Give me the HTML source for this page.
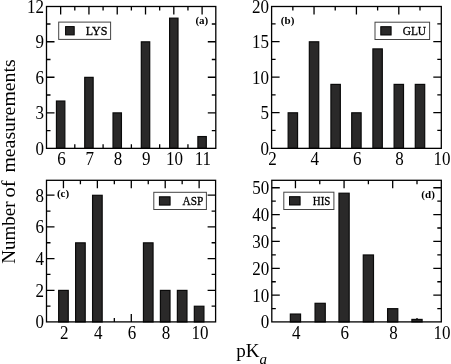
<!DOCTYPE html>
<html><head><meta charset="utf-8"><style>
html,body{margin:0;padding:0;background:#fff;}
svg{display:block;will-change:transform;}
text{font-family:"Liberation Serif",serif;fill:#000;}
.t{font-size:17px;}
.l{font-size:12px;stroke:#000;stroke-width:0.3px;}
.p{font-size:11px;font-weight:bold;}
.ax{font-size:19px;}
</style></head><body>
<svg width="451" height="364" viewBox="0 0 451 364">
<rect width="451" height="364" fill="#fff"/>
<path d="M60.65 148.35v-8M60.65 6.5v8M88.94 148.35v-8M88.94 6.5v8M117.23 148.35v-8M117.23 6.5v8M145.52 148.35v-8M145.52 6.5v8M173.81 148.35v-8M173.81 6.5v8M202.1 148.35v-8M202.1 6.5v8M74.8 148.35v-4M74.8 6.5v4M103.09 148.35v-4M103.09 6.5v4M131.38 148.35v-4M131.38 6.5v4M159.66 148.35v-4M159.66 6.5v4M187.95 148.35v-4M187.95 6.5v4M46.5 112.78h8M215.8 112.78h-8M46.5 77.26h8M215.8 77.26h-8M46.5 41.74h8M215.8 41.74h-8M46.5 130.54h4M215.8 130.54h-4M46.5 95.02h4M215.8 95.02h-4M46.5 59.5h4M215.8 59.5h-4M46.5 23.98h4M215.8 23.98h-4" stroke="#000" stroke-width="1.3" fill="none"/>
<rect x="56.45" y="101.04" width="8.4" height="47.31" fill="#2a2929" stroke="#0a0a0a" stroke-width="1.2"/>
<rect x="84.74" y="77.36" width="8.4" height="70.99" fill="#2a2929" stroke="#0a0a0a" stroke-width="1.2"/>
<rect x="113.03" y="112.88" width="8.4" height="35.47" fill="#2a2929" stroke="#0a0a0a" stroke-width="1.2"/>
<rect x="141.32" y="41.84" width="8.4" height="106.51" fill="#2a2929" stroke="#0a0a0a" stroke-width="1.2"/>
<rect x="169.61" y="18.16" width="8.4" height="130.19" fill="#2a2929" stroke="#0a0a0a" stroke-width="1.2"/>
<rect x="197.9" y="136.56" width="8.4" height="11.79" fill="#2a2929" stroke="#0a0a0a" stroke-width="1.2"/>
<rect x="46.5" y="6.5" width="169.3" height="141.85" fill="none" stroke="#000" stroke-width="1.3"/>
<text class="t" transform="translate(61.45 165.15) scale(1 1.08)" text-anchor="middle">6</text>
<text class="t" transform="translate(89.74 165.15) scale(1 1.08)" text-anchor="middle">7</text>
<text class="t" transform="translate(118.03 165.15) scale(1 1.08)" text-anchor="middle">8</text>
<text class="t" transform="translate(146.32 165.15) scale(1 1.08)" text-anchor="middle">9</text>
<text class="t" transform="translate(174.61 165.15) scale(1 1.08)" text-anchor="middle">10</text>
<text class="t" transform="translate(202.9 165.15) scale(1 1.08)" text-anchor="middle">11</text>
<text class="t" transform="translate(43.9 154.75) scale(1 1.08)" text-anchor="end">0</text>
<text class="t" transform="translate(43.9 119.18) scale(1 1.08)" text-anchor="end">3</text>
<text class="t" transform="translate(43.9 83.66) scale(1 1.08)" text-anchor="end">6</text>
<text class="t" transform="translate(43.9 48.14) scale(1 1.08)" text-anchor="end">9</text>
<text class="t" transform="translate(43.9 13.2) scale(1 1.08)" text-anchor="end">12</text>
<rect x="58.7" y="22.1" width="51.9" height="17.3" fill="#fff" stroke="#444" stroke-width="1"/>
<rect x="65.6" y="26.6" width="8.6" height="8.3" fill="#2a2929" stroke="#000" stroke-width="1"/>
<text class="l" transform="translate(107.3 34.7) scale(1.0 1)" text-anchor="end">LYS</text>
<text class="p" x="201.8" y="23.6" text-anchor="middle">(a)</text>
<path d="M314.04 148.35v-8M314.04 6.5v8M356.42 148.35v-8M356.42 6.5v8M398.8 148.35v-8M398.8 6.5v8M292.85 148.35v-4M292.85 6.5v4M335.23 148.35v-4M335.23 6.5v4M377.61 148.35v-4M377.61 6.5v4M419.99 148.35v-4M419.99 6.5v4M271.6 112.7h8M441.3 112.7h-8M271.6 77.2h8M441.3 77.2h-8M271.6 41.7h8M441.3 41.7h-8M271.6 130.45h4M441.3 130.45h-4M271.6 94.95h4M441.3 94.95h-4M271.6 59.45h4M441.3 59.45h-4M271.6 23.95h4M441.3 23.95h-4" stroke="#000" stroke-width="1.3" fill="none"/>
<rect x="288.15" y="112.8" width="9.4" height="35.55" fill="#2a2929" stroke="#0a0a0a" stroke-width="1.2"/>
<rect x="309.34" y="41.8" width="9.4" height="106.55" fill="#2a2929" stroke="#0a0a0a" stroke-width="1.2"/>
<rect x="330.93" y="84.4" width="9.4" height="63.95" fill="#2a2929" stroke="#0a0a0a" stroke-width="1.2"/>
<rect x="351.72" y="112.8" width="9.4" height="35.55" fill="#2a2929" stroke="#0a0a0a" stroke-width="1.2"/>
<rect x="372.91" y="48.9" width="9.4" height="99.45" fill="#2a2929" stroke="#0a0a0a" stroke-width="1.2"/>
<rect x="394.1" y="84.4" width="9.4" height="63.95" fill="#2a2929" stroke="#0a0a0a" stroke-width="1.2"/>
<rect x="415.29" y="84.4" width="9.4" height="63.95" fill="#2a2929" stroke="#0a0a0a" stroke-width="1.2"/>
<rect x="271.6" y="6.5" width="169.7" height="141.85" fill="none" stroke="#000" stroke-width="1.3"/>
<text class="t" transform="translate(272.46 165.15) scale(1 1.08)" text-anchor="middle">2</text>
<text class="t" transform="translate(314.84 165.15) scale(1 1.08)" text-anchor="middle">4</text>
<text class="t" transform="translate(357.22 165.15) scale(1 1.08)" text-anchor="middle">6</text>
<text class="t" transform="translate(399.6 165.15) scale(1 1.08)" text-anchor="middle">8</text>
<text class="t" transform="translate(441.98 165.15) scale(1 1.08)" text-anchor="middle">10</text>
<text class="t" transform="translate(269 154.75) scale(1 1.08)" text-anchor="end">0</text>
<text class="t" transform="translate(269 119.1) scale(1 1.08)" text-anchor="end">5</text>
<text class="t" transform="translate(269 83.6) scale(1 1.08)" text-anchor="end">10</text>
<text class="t" transform="translate(269 48.1) scale(1 1.08)" text-anchor="end">15</text>
<text class="t" transform="translate(269 13.2) scale(1 1.08)" text-anchor="end">20</text>
<rect x="375" y="22.2" width="54.6" height="17.3" fill="#fff" stroke="#444" stroke-width="1"/>
<rect x="380.8" y="26.7" width="10.3" height="8.3" fill="#2a2929" stroke="#000" stroke-width="1"/>
<text class="l" transform="translate(426.1 34.8) scale(0.95 1)" text-anchor="end">GLU</text>
<text class="p" x="287.6" y="23.6" text-anchor="middle">(b)</text>
<path d="M63.45 321.9v-8M63.45 180.3v8M97.37 321.9v-8M97.37 180.3v8M131.29 321.9v-8M131.29 180.3v8M165.21 321.9v-8M165.21 180.3v8M199.13 321.9v-8M199.13 180.3v8M80.41 321.9v-4M80.41 180.3v4M114.33 321.9v-4M114.33 180.3v4M148.25 321.9v-4M148.25 180.3v4M182.17 321.9v-4M182.17 180.3v4M46.5 290.3h8M215.6 290.3h-8M46.5 258.6h8M215.6 258.6h-8M46.5 226.9h8M215.6 226.9h-8M46.5 195.2h8M215.6 195.2h-8M46.5 306.15h4M215.6 306.15h-4M46.5 274.45h4M215.6 274.45h-4M46.5 242.75h4M215.6 242.75h-4M46.5 211.05h4M215.6 211.05h-4" stroke="#000" stroke-width="1.3" fill="none"/>
<rect x="58.65" y="290.4" width="9.6" height="31.5" fill="#2a2929" stroke="#0a0a0a" stroke-width="1.2"/>
<rect x="75.61" y="242.85" width="9.6" height="79.05" fill="#2a2929" stroke="#0a0a0a" stroke-width="1.2"/>
<rect x="92.57" y="195.3" width="9.6" height="126.6" fill="#2a2929" stroke="#0a0a0a" stroke-width="1.2"/>
<rect x="143.45" y="242.85" width="9.6" height="79.05" fill="#2a2929" stroke="#0a0a0a" stroke-width="1.2"/>
<rect x="160.41" y="290.4" width="9.6" height="31.5" fill="#2a2929" stroke="#0a0a0a" stroke-width="1.2"/>
<rect x="177.37" y="290.4" width="9.6" height="31.5" fill="#2a2929" stroke="#0a0a0a" stroke-width="1.2"/>
<rect x="194.33" y="306.25" width="9.6" height="15.65" fill="#2a2929" stroke="#0a0a0a" stroke-width="1.2"/>
<rect x="46.5" y="180.3" width="169.1" height="141.6" fill="none" stroke="#000" stroke-width="1.3"/>
<text class="t" transform="translate(64.25 338.7) scale(1 1.08)" text-anchor="middle">2</text>
<text class="t" transform="translate(98.17 338.7) scale(1 1.08)" text-anchor="middle">4</text>
<text class="t" transform="translate(132.09 338.7) scale(1 1.08)" text-anchor="middle">6</text>
<text class="t" transform="translate(166.01 338.7) scale(1 1.08)" text-anchor="middle">8</text>
<text class="t" transform="translate(199.93 338.7) scale(1 1.08)" text-anchor="middle">10</text>
<text class="t" transform="translate(43.9 328.3) scale(1 1.08)" text-anchor="end">0</text>
<text class="t" transform="translate(43.9 296.7) scale(1 1.08)" text-anchor="end">2</text>
<text class="t" transform="translate(43.9 265) scale(1 1.08)" text-anchor="end">4</text>
<text class="t" transform="translate(43.9 233.3) scale(1 1.08)" text-anchor="end">6</text>
<text class="t" transform="translate(43.9 201.6) scale(1 1.08)" text-anchor="end">8</text>
<rect x="153.8" y="192.3" width="52.6" height="17.2" fill="#fff" stroke="#444" stroke-width="1"/>
<rect x="159.4" y="196.8" width="10.7" height="8.3" fill="#2a2929" stroke="#000" stroke-width="1"/>
<text class="l" transform="translate(203.2 205.4) scale(0.94 1)" text-anchor="end">ASP</text>
<text class="p" x="63" y="196.5" text-anchor="middle">(c)</text>
<path d="M295.45 321.9v-8M295.45 180.3v8M344.07 321.9v-8M344.07 180.3v8M392.69 321.9v-8M392.69 180.3v8M319.76 321.9v-4M319.76 180.3v4M368.38 321.9v-4M368.38 180.3v4M417 321.9v-4M417 180.3v4M271.8 295.15h8M441.3 295.15h-8M271.8 268.3h8M441.3 268.3h-8M271.8 241.45h8M441.3 241.45h-8M271.8 214.6h8M441.3 214.6h-8M271.8 187.75h8M441.3 187.75h-8M271.8 308.57h4M441.3 308.57h-4M271.8 281.73h4M441.3 281.73h-4M271.8 254.88h4M441.3 254.88h-4M271.8 228.02h4M441.3 228.02h-4M271.8 201.18h4M441.3 201.18h-4" stroke="#000" stroke-width="1.3" fill="none"/>
<rect x="290.35" y="314.05" width="10.2" height="7.85" fill="#2a2929" stroke="#0a0a0a" stroke-width="1.2"/>
<rect x="315.06" y="303.31" width="10.2" height="18.59" fill="#2a2929" stroke="#0a0a0a" stroke-width="1.2"/>
<rect x="338.97" y="193.22" width="10.2" height="128.68" fill="#2a2929" stroke="#0a0a0a" stroke-width="1.2"/>
<rect x="363.28" y="254.97" width="10.2" height="66.92" fill="#2a2929" stroke="#0a0a0a" stroke-width="1.2"/>
<rect x="387.59" y="308.68" width="10.2" height="13.22" fill="#2a2929" stroke="#0a0a0a" stroke-width="1.2"/>
<rect x="411.9" y="319.42" width="10.2" height="2.48" fill="#2a2929" stroke="#0a0a0a" stroke-width="1.2"/>
<rect x="271.8" y="180.3" width="169.5" height="141.6" fill="none" stroke="#000" stroke-width="1.3"/>
<text class="t" transform="translate(296.25 338.7) scale(1 1.08)" text-anchor="middle">4</text>
<text class="t" transform="translate(344.87 338.7) scale(1 1.08)" text-anchor="middle">6</text>
<text class="t" transform="translate(393.49 338.7) scale(1 1.08)" text-anchor="middle">8</text>
<text class="t" transform="translate(442.11 338.7) scale(1 1.08)" text-anchor="middle">10</text>
<text class="t" transform="translate(269.2 328.3) scale(1 1.08)" text-anchor="end">0</text>
<text class="t" transform="translate(269.2 301.55) scale(1 1.08)" text-anchor="end">10</text>
<text class="t" transform="translate(269.2 274.7) scale(1 1.08)" text-anchor="end">20</text>
<text class="t" transform="translate(269.2 247.85) scale(1 1.08)" text-anchor="end">30</text>
<text class="t" transform="translate(269.2 221) scale(1 1.08)" text-anchor="end">40</text>
<text class="t" transform="translate(269.2 194.15) scale(1 1.08)" text-anchor="end">50</text>
<rect x="283.8" y="192.2" width="50.1" height="17.3" fill="#fff" stroke="#444" stroke-width="1"/>
<rect x="289.5" y="196.7" width="10.6" height="8.3" fill="#2a2929" stroke="#000" stroke-width="1"/>
<text class="l" transform="translate(330.4 205.1) scale(0.91 1)" text-anchor="end">HIS</text>
<text class="p" x="428.1" y="198.1" text-anchor="middle">(d)</text>
<text class="ax" transform="translate(15.1 263.8) rotate(-90) scale(1.0 1)">Number</text>
<text class="ax" transform="translate(15.1 197.4) rotate(-90) scale(1.08 1)">of</text>
<text class="ax" transform="translate(15.1 172.6) rotate(-90) scale(1.043 1)">measurements</text>
<text class="ax" x="236.3" y="356.7">pK<tspan font-style="italic" font-size="15px" dy="7.3">a</tspan></text>
</svg>
</body></html>
